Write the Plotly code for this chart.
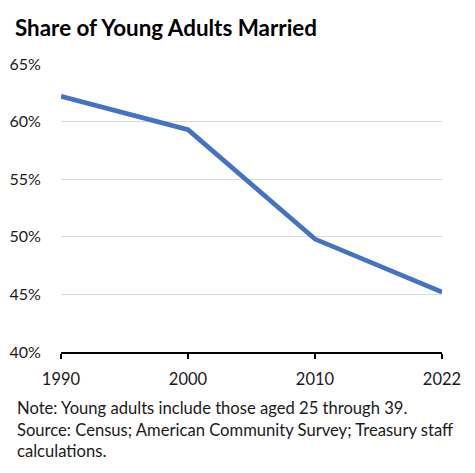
import plotly.graph_objects as go

years = ["1990", "2000", "2010", "2022"]
married_share = [62.2, 59.3, 49.8, 45.2]
y_ticks = [40, 45, 50, 55, 60, 65]
y_tick_labels = ["40%", "45%", "50%", "55%", "60%", "65%"]

W, H = 467, 465  # page body has an 8px margin

fig = go.Figure()
fig.add_trace(go.Scatter(
    x=list(range(len(years))), y=married_share, mode="lines",
    line=dict(color="#4472C4", width=4.7), hoverinfo="skip"))

fig.update_layout(
    width=W, height=H,
    margin=dict(l=53, r=33, t=56, b=121, autoexpand=False),
    paper_bgcolor="white", plot_bgcolor="white",
    showlegend=False,
    font=dict(family="Lato", size=16, color="#1a1a1a"),
    title=dict(text="<b>Share of Young Adults Married</b>", x=7/W, xanchor="left",
               xref="container", y=1-20/H, yanchor="middle", yref="container",
               font=dict(family="Lato", size=22.4, color="black")),
)
fig.update_xaxes(
    automargin=False,
    range=[0, 3], tickvals=list(range(len(years))), ticktext=years,
    showgrid=False, zeroline=False, showline=True, linecolor="black", linewidth=1.5,
    ticks="outside", ticklen=5, tickcolor="black", tickwidth=1.5,
    ticklabelstandoff=6,
    tickfont=dict(size=16.5, color="#1a1a1a"))
fig.update_yaxes(
    automargin=False,
    range=[40, 65], tickvals=y_ticks, ticktext=y_tick_labels,
    showgrid=True, gridcolor="#d9d9d9", gridwidth=1.2, zeroline=False, showline=False,
    ticks="outside", ticklen=16, tickcolor="rgba(0,0,0,0)",
    tickfont=dict(size=16, color="#1a1a1a"))

fig.add_annotation(
    text="Note: Young adults include those aged 25 through 39.<br>Source: Census; American Community Survey; Treasury staff<br>calculations.",
    xref="paper", yref="paper", x=-46/381, y=-44/288, xanchor="left", yanchor="top",
    align="left", showarrow=False, font=dict(family="Lato", size=16.6, color="#1a1a1a"))

fig.write_html("out.html")
